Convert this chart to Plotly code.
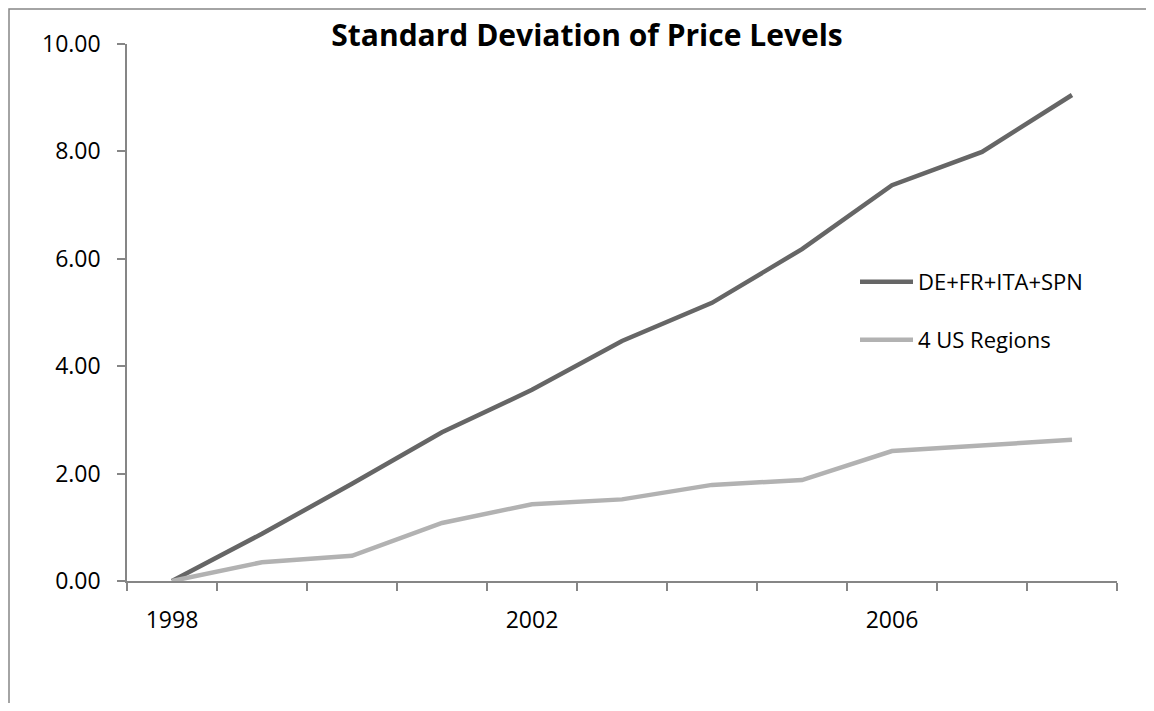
import plotly.graph_objects as go

years = [1998, 1999, 2000, 2001, 2002, 2003, 2004, 2005, 2006, 2007, 2008]
eu_values = [0.00, 0.88, 1.81, 2.77, 3.56, 4.47, 5.18, 6.18, 7.37, 7.99, 9.05]
us_values = [0.00, 0.35, 0.47, 1.08, 1.43, 1.52, 1.79, 1.88, 2.42, 2.53, 2.63]
eu_name = "DE+FR+ITA+SPN"
us_name = "4 US Regions"
title_text = "Standard Deviation of Price Levels"
x_label_years = [1998, 2002, 2006]
y_ticks = [0, 2, 4, 6, 8, 10]

FONT = "Open Sans"
AXIS_COLOR = "#868686"

# page body has an 8px margin; plot area target: x 127..1117, y 44..581 (window px)
W, H = 1138, 695
L, T = 119, 36
PW, PH = 990, 537

fig = go.Figure()
fig.add_trace(go.Scatter(x=years, y=eu_values, mode="lines", name=eu_name,
                         line=dict(color="#666666", width=4.5), legend="legend"))
fig.add_trace(go.Scatter(x=years, y=us_values, mode="lines", name=us_name,
                         line=dict(color="#b2b2b2", width=4.5), legend="legend2"))

boundaries = [y - 0.5 for y in years] + [years[-1] + 0.5]

leg_x = (860 - 5 - 127) / PW

fig.update_layout(
    width=W, height=H,
    margin=dict(l=L, r=W - L - PW, t=T, b=H - T - PH, pad=0),
    paper_bgcolor="white", plot_bgcolor="white",
    font=dict(family=FONT, size=23, color="black"),
    title=dict(text="<b>" + title_text + "</b>", x=(587 - 8) / W,
               xanchor="center", y=1 - (35 - 8) / H, yanchor="middle",
               font=dict(family=FONT, size=30, color="black")),
    xaxis=dict(range=[years[0] - 0.5, years[-1] + 0.5], showgrid=False, zeroline=False,
               showline=True, linecolor=AXIS_COLOR, linewidth=1.5,
               tickmode="array", tickvals=x_label_years, ticktext=[str(v) for v in x_label_years],
               ticks="", ticklabelstandoff=18,
               minor=dict(tickmode="array", tickvals=boundaries, ticks="outside", ticklen=8,
                          tickcolor=AXIS_COLOR, tickwidth=1.5, showgrid=False),
               tickfont=dict(family=FONT, size=23)),
    yaxis=dict(range=[0, 10], showgrid=False, zeroline=False,
               showline=True, linecolor=AXIS_COLOR, linewidth=1.5,
               tickmode="array", tickvals=y_ticks, ticktext=["%.2f" % v for v in y_ticks],
               ticks="outside", ticklen=8, tickcolor=AXIS_COLOR, tickwidth=1.5,
               ticklabelstandoff=12,
               tickfont=dict(family=FONT, size=23)),
    legend=dict(x=leg_x, y=(581 - 282) / PH, xanchor="left", yanchor="middle",
                itemwidth=53,
                bgcolor="rgba(0,0,0,0)", font=dict(family=FONT, size=22)),
    legend2=dict(x=leg_x, y=(581 - 340) / PH, xanchor="left", yanchor="middle",
                 itemwidth=53,
                 bgcolor="rgba(0,0,0,0)", font=dict(family=FONT, size=22)),
    showlegend=True,
)

# chart-area border (Excel style), drawn at the figure's top-left edge
fig.add_shape(type="rect", xref="paper", yref="paper",
              x0=(1 - L) / PW, x1=1.2, y0=-0.4, y1=(H - 1 - (H - T - PH)) / PH,
              line=dict(color=AXIS_COLOR, width=1.5), fillcolor="rgba(0,0,0,0)", layer="below")

fig.write_html("out.html")
